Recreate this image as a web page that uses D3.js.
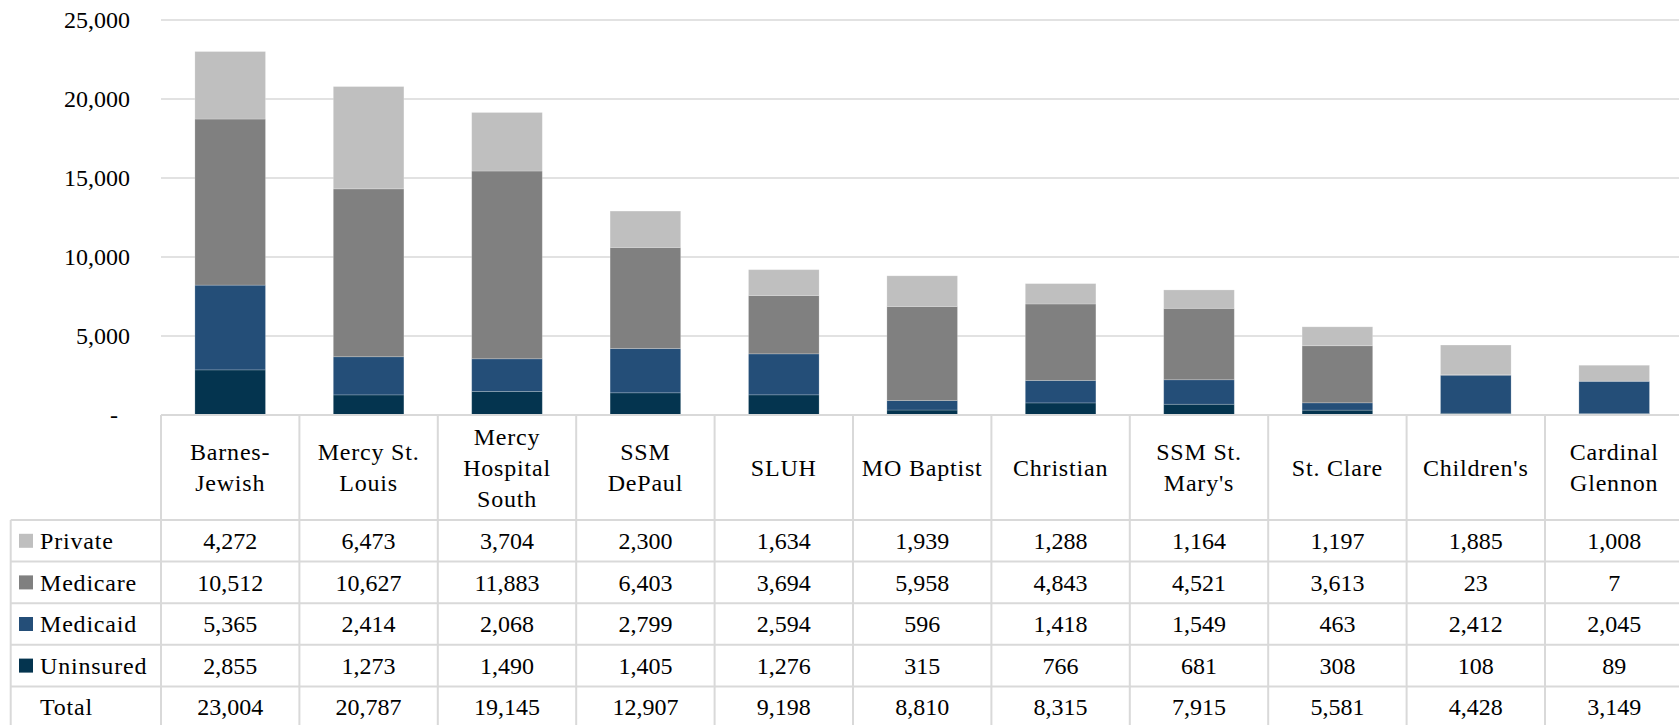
<!DOCTYPE html>
<html><head><meta charset="utf-8">
<script src="https://cdn.jsdelivr.net/npm/d3@7"></script>
<style>
html,body{margin:0;padding:0;background:#fff;}
svg{display:block;}
</style></head>
<body><svg id="chart" width="1679" height="725"></svg>
<script>
const categories = [["Barnes-","Jewish"],["Mercy St.","Louis"],["Mercy","Hospital","South"],["SSM","DePaul"],["SLUH"],["MO Baptist"],["Christian"],["SSM St.","Mary's"],["St. Clare"],["Children's"],["Cardinal","Glennon"]];
const seriesNames = ["Private","Medicare","Medicaid","Uninsured"];
const privateVals   = [4272,6473,3704,2300,1634,1939,1288,1164,1197,1885,1008];
const medicareVals  = [10512,10627,11883,6403,3694,5958,4843,4521,3613,23,7];
const medicaidVals  = [5365,2414,2068,2799,2594,596,1418,1549,463,2412,2045];
const uninsuredVals = [2855,1273,1490,1405,1276,315,766,681,308,108,89];
const totals        = [23004,20787,19145,12907,9198,8810,8315,7915,5581,4428,3149];
const yTicks = [0,5000,10000,15000,20000,25000];
const colors = {Private:"#bfbfbf",Medicare:"#808080",Medicaid:"#244e78",Uninsured:"#04344f"};

const FONT = '"Liberation Serif","Times New Roman",serif';
const svg = d3.select("#chart");
const x0 = 161, band = 138.4, nCat = categories.length;
const yTop = 20, yBase = 415;
const rowYs = [520, 561.6, 603.2, 644.8, 686.4, 728];
const fs = 24;

function styleText(sel, words){
  sel.style("font-family",FONT).style("font-size",fs+"px").style("fill","#000");
  if (words) sel.style("letter-spacing","0.8px");
  return sel;
}

const keys = categories.map((c,i)=>i);
const x = d3.scaleBand().domain(keys).range([x0, x0+band*nCat]).paddingInner(0.49).paddingOuter(0.245);
const xCol = d3.scaleBand().domain(keys).range([x0, x0+band*nCat]);
const y = d3.scaleLinear().domain([0,25000]).range([yBase,yTop]);

// gridlines
svg.append("g").selectAll("line").data(yTicks.filter(t=>t>0)).join("line")
  .attr("x1",x0).attr("x2",1679).attr("y1",d=>y(d)).attr("y2",d=>y(d))
  .attr("stroke","#d9d9d9").attr("stroke-width",1.5);

// y axis labels
const yAxis = d3.axisLeft(y).tickValues(yTicks).tickSize(0).tickPadding(0)
  .tickFormat(d=> d===0 ? "-" : d3.format(",")(d));
const ga = svg.append("g").attr("transform","translate(130,0)").call(yAxis);
ga.select(".domain").remove();
styleText(ga.selectAll("text"), false).attr("dy","0.3em").attr("dx",d=>d===0?-12:0);

// stacked bars
const data = keys.map(i=>({i, Uninsured:uninsuredVals[i], Medicaid:medicaidVals[i], Medicare:medicareVals[i], Private:privateVals[i]}));
const stackKeys = ["Uninsured","Medicaid","Medicare","Private"];
const stacked = d3.stack().keys(stackKeys)(data);
svg.append("g").selectAll("g").data(stacked).join("g")
  .attr("fill",d=>colors[d.key])
  .selectAll("rect").data(d=>d).join("rect")
  .attr("x",d=>x(d.data.i)).attr("width",x.bandwidth())
  .attr("y",d=>y(d[1])).attr("height",d=>y(d[0])-y(d[1]))
  .attr("stroke","rgba(255,255,255,0.25)").attr("stroke-width",0.8);

// table lines
const tl = svg.append("g").attr("stroke","#d9d9d9").attr("stroke-width",2);
tl.append("line").attr("x1",x0).attr("x2",1679).attr("y1",yBase).attr("y2",yBase);
rowYs.slice(0,5).forEach(ry=>tl.append("line").attr("x1",10.7).attr("x2",1679).attr("y1",ry).attr("y2",ry));
tl.append("line").attr("x1",10.7).attr("x2",10.7).attr("y1",rowYs[0]).attr("y2",725);
d3.range(nCat+1).forEach(k=>{
  const xx = x0 + band*k;
  tl.append("line").attr("x1",xx).attr("x2",xx).attr("y1",yBase).attr("y2",725);
});

// category header labels
const hdr = svg.append("g");
categories.forEach((lines,i)=>{
  const cx = xCol(i)+xCol.bandwidth()/2;
  const cy = (yBase+rowYs[0])/2;
  const lh = 31;
  lines.forEach((ln,j)=>{
    styleText(hdr.append("text"), true).attr("x",cx).attr("y",cy+(j-(lines.length-1)/2)*lh)
      .attr("text-anchor","middle").attr("dy","0.35em").text(ln);
  });
});

// rows
const rowData = [privateVals, medicareVals, medicaidVals, uninsuredVals, totals];
const rowNames = [...seriesNames, "Total"];
const fmt = d3.format(",");
rowData.forEach((vals,r)=>{
  const cy = r<4 ? (rowYs[r]+rowYs[r+1])/2 : (rowYs[4]+725)/2+1;
  const g = svg.append("g");
  if (r<4) g.append("rect").attr("x",19).attr("y",cy-7).attr("width",14).attr("height",14).attr("fill",colors[rowNames[r]]);
  styleText(g.append("text"), true).attr("x",40).attr("y",cy).attr("dy","0.35em").text(rowNames[r]);
  styleText(g.selectAll("text.v").data(vals).join("text").attr("class","v"), false)
    .attr("x",(d,i)=>xCol(i)+xCol.bandwidth()/2).attr("y",cy).attr("dy","0.35em")
    .attr("text-anchor","middle").text(d=>fmt(d));
});
</script></body></html>
